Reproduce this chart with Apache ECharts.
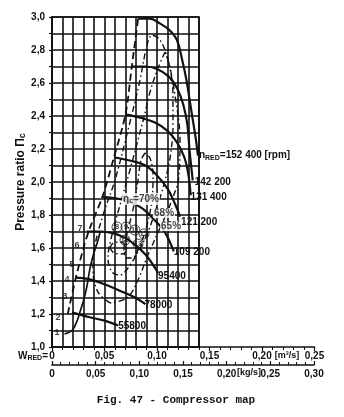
<!DOCTYPE html>
<html><head><meta charset="utf-8">
<script src="https://cdn.jsdelivr.net/npm/echarts@6/dist/echarts.min.js"></script>
<style>html,body{margin:0;padding:0;background:#fff}#c{width:344px;height:417px}</style>
</head><body><div id="c"></div>
<script>
// ---------- DATA (x = volume flow W_RED [m3/s], y = pressure ratio) ----------
const piTickLabels = ['1,0','1,2','1,4','1,6','1,8','2,0','2,2','2,4','2,6','2,8','3,0'];
const flowTickLabels = ['0','0,05','0,10','0,15','0,20','0,25'];
const massTickLabels = ['0','0,05','0,10','0,15','0,20','0,25','0,30'];

const speedNames = ['n{s|RED}=152 400 [rpm]','142 200','131 400','121 200','109 200','95400','78000','55800'];
const speed152400 = [[0.082,2.99],[0.093,2.99],[0.103,2.96],[0.112,2.92],[0.119,2.86],[0.124,2.74],[0.128,2.62],[0.131,2.50],[0.134,2.38],[0.137,2.26],[0.139,2.16]];
const speed142200 = [[0.076,2.70],[0.089,2.70],[0.100,2.685],[0.111,2.64],[0.119,2.57],[0.125,2.47],[0.129,2.345],[0.131,2.19],[0.133,2.07],[0.134,2.01]];
const speed131400 = [[0.070,2.41],[0.084,2.39],[0.098,2.36],[0.110,2.31],[0.119,2.24],[0.126,2.15],[0.130,2.04],[0.132,1.92]];
const speed121200 = [[0.059,2.15],[0.074,2.13],[0.089,2.10],[0.100,2.04],[0.110,1.96],[0.117,1.87],[0.122,1.79]];
const speed109200 = [[0.048,1.91],[0.062,1.90],[0.074,1.88],[0.086,1.84],[0.096,1.78],[0.106,1.71],[0.112,1.64],[0.116,1.58]];
const speed95400  = [[0.033,1.70],[0.046,1.70],[0.058,1.69],[0.070,1.66],[0.079,1.62],[0.089,1.56],[0.096,1.50],[0.101,1.45]];
const speed78000  = [[0.022,1.42],[0.036,1.41],[0.050,1.38],[0.065,1.34],[0.079,1.30],[0.089,1.26]];
const speed55800  = [[0.019,1.21],[0.036,1.18],[0.050,1.16],[0.063,1.13]];

const surgeLine = [[0.015,1.20],[0.022,1.40],[0.030,1.60],[0.036,1.72],[0.048,1.91],[0.059,2.15],[0.070,2.41],[0.076,2.70],[0.082,2.99]];
const operatingLine = [[0.012,1.08],[0.019,1.10],[0.024,1.16],[0.027,1.22],[0.030,1.28],[0.033,1.36],[0.036,1.47],[0.039,1.55],[0.043,1.63],[0.046,1.70]];

const eff65 = [[0.0552,1.267],[0.0438,1.333],[0.039,1.467],[0.041,1.618],[0.0486,1.80],[0.060,2.012],[0.0724,2.315],[0.0838,2.618],[0.0905,2.83],[0.0952,2.89],[0.1029,2.861],[0.1105,2.739],[0.1171,2.527],[0.1219,2.255],[0.121,2.042],[0.1124,1.861],[0.1029,1.721],[0.0914,1.558],[0.081,1.394],[0.0714,1.297],[0.0552,1.267]];
const eff68 = [[0.1076,2.788],[0.101,2.691],[0.0933,2.545],[0.0886,2.418],[0.0819,2.255],[0.0743,2.073],[0.0648,1.861],[0.0571,1.679],[0.0533,1.539],[0.0571,1.455],[0.0648,1.436],[0.0724,1.479],[0.0819,1.576],[0.0914,1.697],[0.0981,1.818],[0.1057,1.964],[0.1124,2.145],[0.1152,2.345],[0.1152,2.527],[0.1124,2.691],[0.1076,2.788]];
const eff70 = [[0.0886,2.176],[0.0848,2.133],[0.0819,2.012],[0.0781,1.861],[0.0724,1.709],[0.0686,1.60],[0.0705,1.539],[0.0762,1.539],[0.0838,1.618],[0.0905,1.739],[0.0952,1.891],[0.0962,2.042],[0.0933,2.145],[0.0886,2.176]];
const effIsland = [[0.0552,1.60],[0.0581,1.63],[0.0648,1.636],[0.0705,1.618],[0.0714,1.588],[0.0667,1.564],[0.059,1.57],[0.0552,1.60]];
const effLabels = [[0.0667,1.897,'η{s|c}=70%'],[0.0962,1.812,'68%'],[0.1029,1.733,'65%']];

const pointNumbers = [[0.0048,1.085,'1'],[0.0057,1.176,'2'],[0.0124,1.303,'3'],[0.0143,1.406,'4'],[0.019,1.497,'5'],[0.0238,1.618,'6'],[0.0267,1.721,'7']];
const circledNumbers = [[0.0619,1.727,'8'],[0.0705,1.727,'9'],[0.079,1.709,'11'],[0.0876,1.685,'12'],[0.0695,1.648,'10'],[0.0819,1.624,'13']];

// ---------- CHART ----------
const INK = '#111';
const FONT = '"Liberation Sans", Arial, sans-serif';
const subRich = {s:{fontSize:7, fontWeight:'bold', fontFamily:FONT, color:INK, padding:[5,0,0,0]}};
const chart = echarts.init(document.getElementById('c'), null, {renderer:'canvas'});

const speedData = [speed152400,speed142200,speed131400,speed121200,speed109200,speed95400,speed78000,speed55800];
const labelOffsets = [[-2,0],[-1,2],[-3,2],[-2,6],[-3,1],[-3,3],[-4,1],[-3,1]];

const series = [];
speedData.forEach((d,i)=>{
  series.push({type:'line', data:d, smooth:0.4, symbol:'none', clip:false, z:5,
    lineStyle:{color:INK, width:2.2},
    endLabel:{show:true, formatter:speedNames[i], offset:labelOffsets[i], distance:3,
      fontFamily:FONT, fontWeight:'bold', fontSize:10, color:INK, rich:subRich}});
});
series.push({type:'line', data:surgeLine, smooth:0.3, symbol:'none', z:4,
  lineStyle:{color:INK, width:1.8, type:[7,4]}});
series.push({type:'line', data:operatingLine, smooth:0.4, symbol:'none', z:4,
  lineStyle:{color:INK, width:1.7}});
[eff65, eff68, eff70, effIsland].forEach(d=>{
  series.push({type:'line', data:d, smooth:0.35, symbol:'none', z:3,
    lineStyle:{color:INK, width:1.4, type:[6,3,1.5,3]}});
});
series.push({type:'scatter', data:effLabels, symbolSize:0, z:8,
  label:{show:true, position:'right', distance:0, formatter:p=>p.value[2],
    fontFamily:FONT, fontWeight:'bold', fontSize:10, color:INK,
    backgroundColor:'#fff', padding:[0,1], rich:subRich}});
series.push({type:'scatter', data:pointNumbers, symbolSize:0, z:8,
  label:{show:true, position:'inside', formatter:p=>p.value[2],
    fontFamily:FONT, fontWeight:'bold', fontSize:9, color:INK}});
series.push({type:'scatter', data:circledNumbers, symbol:'circle', symbolSize:10, z:8,
  itemStyle:{color:'rgba(255,255,255,0)', borderColor:INK, borderWidth:1},
  label:{show:true, position:'inside', formatter:p=>p.value[2],
    fontFamily:FONT, fontWeight:'bold', fontSize:8, color:INK}});

// label lookup: value -> text from a tick-label list with a given start and step
const fmtIdx = (arr, start, step) => v => {
  const k = Math.round((v-start)/step);
  return Math.abs(v - start - k*step) < 1e-6 && arr[k] !== undefined ? arr[k] : '';
};

chart.setOption({
  animation:false,
  backgroundColor:'#fff',
  grid:[
    {left:52, top:17, width:147, height:330, show:true, borderColor:INK, borderWidth:1.7},
    {left:52, top:17, width:262.5, height:330},
    {left:52, top:364, width:262, height:1}
  ],
  xAxis:[
    {gridIndex:0, type:'value', min:0, max:0.14, interval:0.01,
      axisLine:{show:false}, axisTick:{show:false}, axisLabel:{show:false},
      splitLine:{show:true, lineStyle:{color:INK, width:1.6}}},
    {gridIndex:1, type:'value', min:0, max:0.25, interval:0.05,
      axisLine:{show:true, lineStyle:{color:INK, width:1.7}},
      axisTick:{show:true, length:4, lineStyle:{color:INK, width:1.2}},
      minorTick:{show:true, splitNumber:5, length:3, lineStyle:{color:INK, width:1}},
      axisLabel:{formatter:fmtIdx(flowTickLabels,0,0.05), margin:4, fontFamily:FONT, fontWeight:'bold', fontSize:10, color:INK},
      splitLine:{show:false}},
    {gridIndex:2, type:'value', min:0, max:0.30, interval:0.05, position:'bottom',
      axisLine:{show:true, lineStyle:{color:INK, width:1.6}},
      axisTick:{show:true, inside:true, length:4, lineStyle:{color:INK, width:1.2}},
      minorTick:{show:true, splitNumber:5, length:3, lineStyle:{color:INK, width:1}},
      axisLabel:{formatter:fmtIdx(massTickLabels,0,0.05), margin:4, fontFamily:FONT, fontWeight:'bold', fontSize:10, color:INK},
      splitLine:{show:false}}
  ],
  yAxis:[
    {gridIndex:0, type:'value', min:1, max:3, interval:0.1,
      axisLine:{show:true, lineStyle:{color:INK, width:1.7}},
      axisTick:{show:true, length:3, lineStyle:{color:INK, width:1.2}},
      axisLabel:{formatter:fmtIdx(piTickLabels,1,0.2),
        margin:7, fontFamily:FONT, fontWeight:'bold', fontSize:10, color:INK},
      splitLine:{show:true, lineStyle:{color:INK, width:1.6}},
      name:'Pressure ratio Π{c|c}', nameLocation:'middle', nameGap:21, nameRotate:90,
      nameTextStyle:{fontFamily:FONT, fontWeight:'bold', fontSize:12, color:INK,
        rich:{c:{fontFamily:FONT, fontWeight:'bold', fontSize:9, color:INK, padding:[4,0,0,0]}}}},
    {gridIndex:1, type:'value', min:1, max:3, show:false},
    {gridIndex:2, type:'value', min:0, max:1, show:false}
  ],
  graphic:[
    {type:'text', x:48, y:356, style:{text:'W{s|RED}=', textAlign:'right', textVerticalAlign:'middle',
      fontFamily:FONT, fontWeight:'bold', fontSize:10, fill:INK,
      rich:{s:{fontSize:7, fontWeight:'bold', fontFamily:FONT, fill:INK, padding:[5,0,0,0]}}}},
    {type:'text', x:287, y:356, style:{text:'[m³/s]', textAlign:'center', textVerticalAlign:'middle',
      fontFamily:FONT, fontWeight:'bold', fontSize:9, fill:INK}},
    {type:'text', x:249, y:373, style:{text:'[kg/s]', textAlign:'center', textVerticalAlign:'middle',
      fontFamily:FONT, fontWeight:'bold', fontSize:9, fill:INK}},
    {type:'text', x:176, y:400, style:{text:'Fig. 47 - Compressor map', textAlign:'center', textVerticalAlign:'middle',
      fontFamily:'"Liberation Mono", monospace', fontWeight:'bold', fontSize:11, fill:INK}}
  ],
  series:series
});
</script></body></html>
